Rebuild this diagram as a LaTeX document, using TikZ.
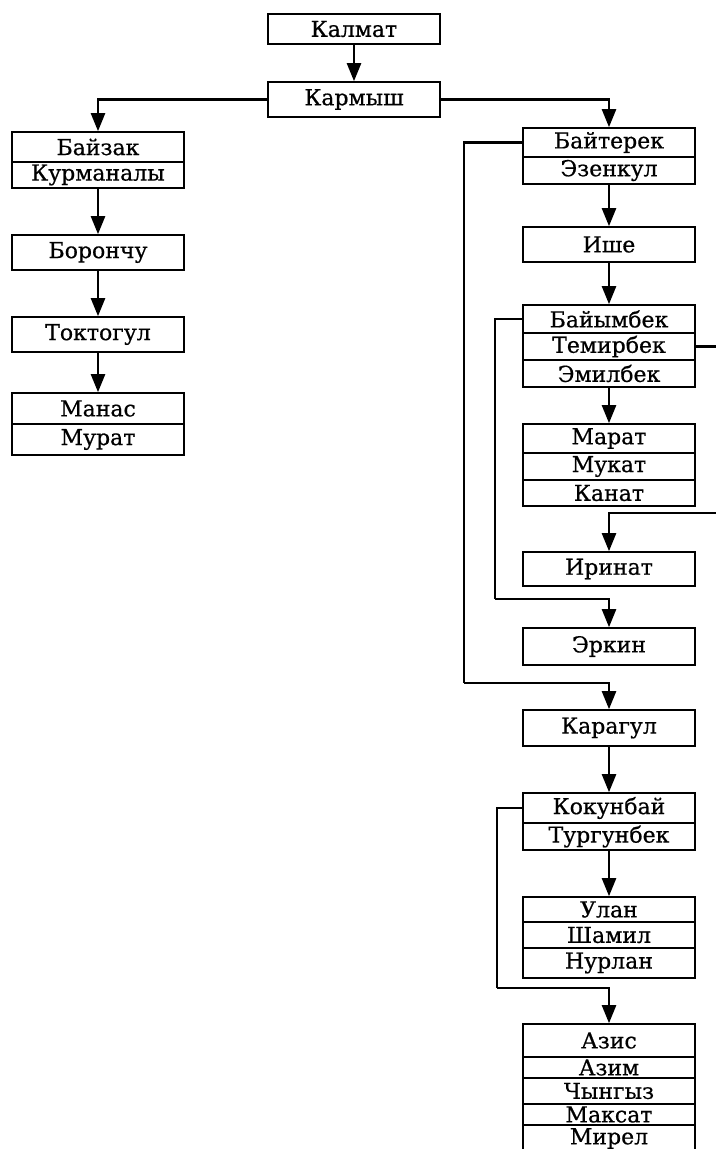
\documentclass[tikz,border=0pt]{standalone}
\usepackage{fontspec}
\setmainfont{DejaVu Serif}
\newfontfamily\namefont{DejaVu Serif}[FakeBold=0.6]
\usetikzlibrary{arrows.meta}

\tikzset{
  namebox/.style={draw, line width=0.8pt, minimum width=86pt, inner sep=0pt,
    font=\namefont\fontsize{11}{12}\selectfont},
  ht/.style={minimum height=#1*0.5pt},
  link/.style={line width=1.2pt, -{Triangle[length=9pt,width=7pt]}},
  wire/.style={line width=1.2pt}
}

\begin{document}
\begin{tikzpicture}[x=0.5pt, y=-0.5pt]
	\useasboundingbox (0,0) rectangle (716,1149);
	% top
	\node[namebox, ht=30] (kalmat)  at (354,29)   {Калмат};
	\node[namebox, ht=35] (karmysh) at (354,99.5) {Кармыш};
	% left branch
	\node[namebox, ht=30] (bayzak)    at (98,147)   {Байзак};
	\node[namebox, ht=26] (kurmanaly) at (98,175)   {Курманалы};
	\node[namebox, ht=35] (boronchu)  at (98,252.5) {Борончу};
	\node[namebox, ht=35] (toktogul)  at (98,334.5) {Токтогул};
	\node[namebox, ht=31] (manas)     at (98,408.5) {Манас};
	\node[namebox, ht=31] (murat)     at (98,439.5) {Мурат};
	% right branch
	\node[namebox, ht=29] (bayterek)  at (609,142.5) {Байтерек};
	\node[namebox, ht=27] (ezenkul)   at (609,170.5) {Эзенкул};
	\node[namebox, ht=35] (ishe)      at (609,244.5) {Ише};
	\node[namebox, ht=28] (baiymbek)  at (609,319)   {Байымбек};
	\node[namebox, ht=27] (temirbek)  at (609,346.5) {Темирбек};
	\node[namebox, ht=27] (emilbek)   at (609,373.5) {Эмилбек};
	\node[namebox, ht=29] (marat)     at (609,438.5) {Марат};
	\node[namebox, ht=27] (mukat)     at (609,466.5) {Мукат};
	\node[namebox, ht=26] (kanat)     at (609,493)   {Канат};
	\node[namebox, ht=34] (irinat)    at (609,569)   {Иринат};
	\node[namebox, ht=37] (erkin)     at (609,646.5) {Эркин};
	\node[namebox, ht=36] (karagul)   at (609,728)   {Карагул};
	\node[namebox, ht=30] (kokunbay)  at (609,808)   {Кокунбай};
	\node[namebox, ht=27] (turgunbek) at (609,836.5) {Тургунбек};
	\node[namebox, ht=25] (ulan)      at (609,909.5) {Улан};
	\node[namebox, ht=26] (shamil)    at (609,935)   {Шамил};
	\node[namebox, ht=30] (nurlan)    at (609,963)   {Нурлан};
	\node[namebox, ht=33] (aziz)      at (609,1040.5) {Азис};
	\node[namebox, ht=21] (azim)      at (609,1067.5) {Азим};
	\node[namebox, ht=26] (chyngyz)   at (609,1091)   {Чынгыз};
	\node[namebox, ht=21] (maksat)    at (609,1114.5) {Максат};
	\node[namebox, ht=27] (mirel)     at (609,1138.5) {Мирел};
	% bends of the side lines
	\coordinate (kbend) at (464,683);
	\coordinate (ebend) at (495,599);
	\coordinate (rbend) at (726,513);
	\coordinate (abend) at (497,988);
	% connectors
	\draw[link] (kalmat) -- (karmysh);
	\draw[link] (karmysh.west) -| (bayzak.north);
	\draw[link] (karmysh.east) -| (bayterek.north);
	\draw[link] (kurmanaly) -- (boronchu);
	\draw[link] (boronchu) -- (toktogul);
	\draw[link] (toktogul) -- (manas);
	\draw[link] (ezenkul) -- (ishe);
	\draw[link] (ishe) -- (baiymbek);
	\draw[link] (emilbek) -- (marat);
	\draw[link] (karagul) -- (kokunbay);
	\draw[link] (turgunbek) -- (ulan);
	\draw[wire] (bayterek.west) -| (kbend);
	\draw[link] (kbend) -| (karagul.north);
	\draw[wire] (baiymbek.west) -| (ebend);
	\draw[link] (ebend) -| (erkin.north);
	\draw[wire] (temirbek.east) -| (rbend);
	\draw[link] (rbend) -| (irinat.north);
	\draw[wire] (kokunbay.west) -| (abend);
	\draw[link] (abend) -| (aziz.north);
\end{tikzpicture}
\end{document}
